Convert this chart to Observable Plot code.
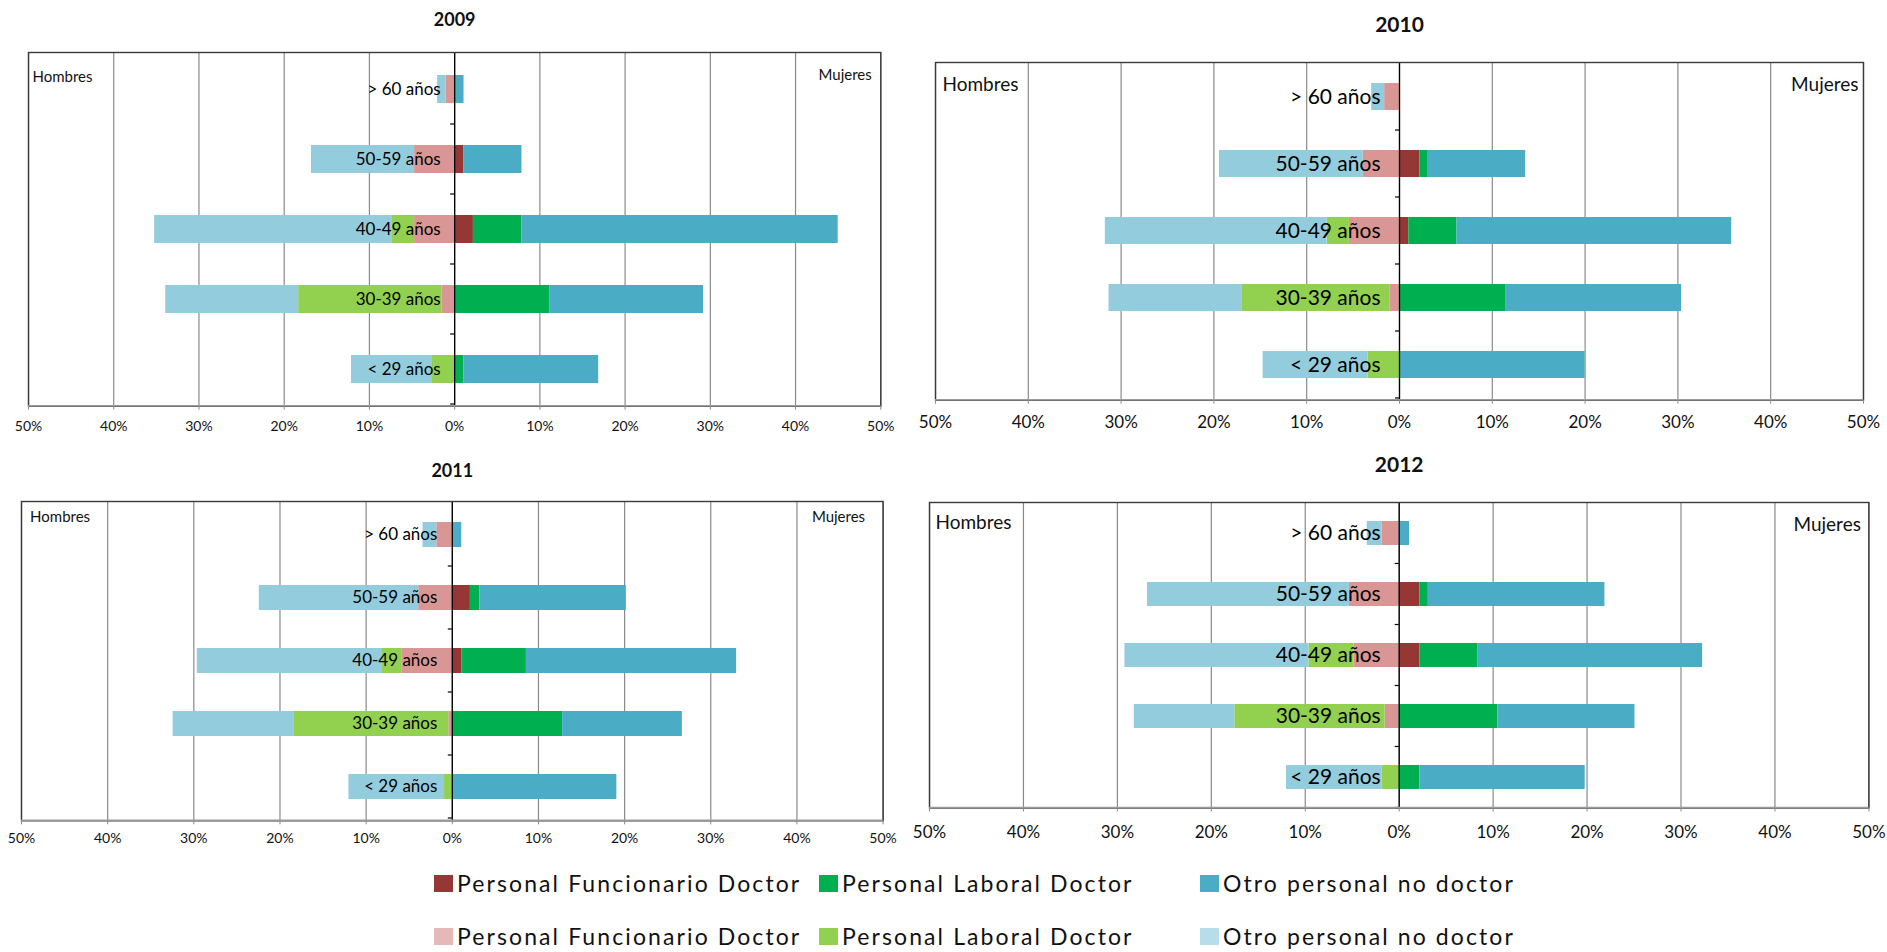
<!DOCTYPE html>
<html>
<head>
<meta charset="utf-8">
<script src="https://cdn.jsdelivr.net/npm/d3@7"></script>
<script src="https://cdn.jsdelivr.net/npm/@observablehq/plot@0.6"></script>
<style>
html, body { margin: 0; padding: 0; background: #fff; }
#root { position: relative; width: 1887px; height: 952px; overflow: hidden; font-family: Lato, "Open Sans", sans-serif; color: #000; }
#root svg { position: absolute; overflow: visible; }
.lg { position: absolute; display: flex; align-items: center; height: 26px; line-height: 26px; font-size: 23px; letter-spacing: 2.1px; white-space: nowrap; color: #111; }
.sw { width: 19px; height: 17px; margin-right: 4px; flex: none; }
</style>
</head>
<body>
<div id="root"></div>
<script>
// ---------------- data ----------------
const years = ["2009", "2010", "2011", "2012"];
const ages = ["> 60 años", "50-59 años", "40-49 años", "30-39 años", "< 29 años"];
const xTicks = [-50, -40, -30, -20, -10, 0, 10, 20, 30, 40, 50];
const series = ["Personal Funcionario Doctor", "Personal Laboral Doctor", "Otro personal no doctor"];

// Hombres (left side), % per age group; one row per year
const hombresFuncionario = [
  [1.0, 4.7, 4.7, 1.5, 0.0],
  [1.6, 3.9, 5.4, 1.0, 0.0],
  [1.8, 3.9, 5.8, 0.4, 0.0],
  [1.8, 5.3, 4.8, 1.5, 0.0]
];
const hombresLaboral = [
  [0.0, 0.0, 2.6, 16.8, 2.6],
  [0.0, 0.0, 2.4, 16.0, 3.4],
  [0.0, 0.0, 2.3, 18.0, 0.9],
  [0.0, 0.0, 4.8, 16.0, 1.8]
];
const hombresOtro = [
  [1.0, 12.1, 27.9, 15.6, 9.5],
  [1.4, 15.5, 23.9, 14.3, 11.3],
  [1.6, 18.5, 21.5, 14.0, 11.1],
  [1.6, 21.5, 19.6, 10.7, 10.2]
];
// Mujeres (right side)
const mujeresFuncionario = [
  [0.0, 1.1, 2.2, 0.0, 0.0],
  [0.0, 2.2, 1.0, 0.0, 0.0],
  [0.0, 2.1, 1.1, 0.0, 0.0],
  [0.0, 2.2, 2.2, 0.0, 0.0]
];
const mujeresLaboral = [
  [0.0, 0.0, 5.7, 11.2, 1.1],
  [0.0, 0.9, 5.2, 11.5, 0.0],
  [0.0, 1.1, 7.5, 12.8, 0.0],
  [0.0, 0.9, 6.2, 10.5, 2.2]
];
const mujeresOtro = [
  [1.1, 6.8, 37.1, 18.0, 15.8],
  [0.0, 10.5, 29.6, 18.9, 20.0],
  [1.1, 17.0, 24.4, 13.9, 19.1],
  [1.1, 18.8, 23.9, 14.6, 17.6]
];

// ---------------- styles ----------------
const coloresMujeres = ["#953735", "#00B050", "#4BACC6"];
const coloresHombres = ["#D99694", "#92D050", "#93CDDD"];
const coloresLeyendaHombres = ["#E6B9B8", "#92D050", "#B7DEE8"];
const FONT = "Lato, 'Open Sans', sans-serif";

// panel layout (frame edges in page px) and text sizes
const layout = [
  {L: 27.7, R: 880, T: 52.3, B: 406, titleY: 20, ts: 18, hs: 15, cs: 17, tk: 14, pad: 11, hx: 4, hy: 25, mx: 9, my: 23, labDx: 14},
  {L: 935, R: 1863, T: 62.3, B: 400, titleY: 25, ts: 21, hs: 19, cs: 21, tk: 17, pad: 12, hx: 7, hy: 22, mx: 5, my: 22, labDx: 19},
  {L: 20.7, R: 882.3, T: 500.7, B: 820, titleY: 470.7, ts: 18, hs: 15, cs: 17, tk: 14, pad: 8, hx: 8.6, hy: 16, mx: 18, my: 16, labDx: 15},
  {L: 929.3, R: 1868.7, T: 501.5, B: 807, titleY: 464, ts: 21, hs: 19, cs: 21, tk: 17, pad: 14, hx: 6, hy: 20, mx: 8, my: 22, labDx: 18.5}
];

const keys = ["H0", "H1", "H2", "M0", "M1", "M2"];
const root = document.getElementById("root");
const mL = 30, mR = 30, mT = 60, mB = 45;

years.forEach((year, i) => {
  const p = layout[i];
  const hom = [hombresFuncionario[i], hombresLaboral[i], hombresOtro[i]];
  const muj = [mujeresFuncionario[i], mujeresLaboral[i], mujeresOtro[i]];
  const rows = ages.flatMap((age, j) => [
    ...hom.map((s, k) => ({age, key: "H" + k, value: -s[j]})),
    ...muj.map((s, k) => ({age, key: "M" + k, value: s[j]}))
  ]);
  const W = (p.R - p.L) + mL + mR;
  const H = (p.B - p.T) + mT + mB;
  const plot = Plot.plot({
    width: W, height: H,
    marginLeft: mL, marginRight: mR, marginTop: mT, marginBottom: mB,
    style: {fontFamily: FONT, fontSize: p.tk + "px", background: "transparent", color: "#000", overflow: "visible"},
    x: {domain: [-50, 50], label: null, axis: null},
    y: {type: "band", domain: ages, paddingInner: 0.6, paddingOuter: 0.3, axis: null},
    color: {domain: keys, range: [...coloresHombres, ...coloresMujeres]},
    marks: [
      Plot.gridX(xTicks, {stroke: "#8a8a8a", strokeOpacity: 1, strokeWidth: 1.2}),
      Plot.barX(rows, {x: "value", y: "age", fill: "key"}),
      Plot.ruleX([0], {stroke: "#000", strokeWidth: 1.3}),
      Plot.frame({stroke: "#3a3a3a", strokeWidth: 1.4}),
      Plot.axisX(xTicks, {tickFormat: d => Math.abs(d) + "%", tickSize: 4, tickPadding: p.pad, stroke: "#8a8a8a", fill: "#111", fontSize: p.tk, label: null}),
      Plot.text(ages, {x: () => 0, y: d => d, text: d => d, textAnchor: "end", dx: -p.labDx, fontSize: p.cs, fill: "#000"}),
      Plot.text(["Hombres"], {frameAnchor: "top-left", dx: p.hx, dy: p.hy, textAnchor: "start", lineAnchor: "middle", fontSize: p.hs, fill: "#111"}),
      Plot.text(["Mujeres"], {frameAnchor: "top-right", dx: -p.mx, dy: p.my, textAnchor: "end", lineAnchor: "middle", fontSize: p.hs, fill: "#111"}),
      Plot.text([year], {x: () => 0, frameAnchor: "top", dy: p.titleY - p.T, lineAnchor: "middle", fontSize: p.ts, fontWeight: "bold", fill: "#111"})
    ]
  });
  // band-boundary ticks on the zero line and grey bottom axis line, from Plot's scales
  const ys = plot.scale("y"), xs = plot.scale("x");
  const x0 = xs.apply(0);
  const g = d3.select(plot).append("g");
  ages.forEach(a => {
    const yb = ys.apply(a) + ys.bandwidth / 2 + ys.step / 2;
    g.append("line").attr("x1", x0 - 4).attr("x2", x0).attr("y1", yb).attr("y2", yb).attr("stroke", "#000").attr("stroke-width", 1.2);
  });
  const yBottom = ys.range[1];
  g.append("line").attr("x1", xs.apply(-50)).attr("x2", xs.apply(50)).attr("y1", yBottom).attr("y2", yBottom)
    .attr("stroke", "#9a9a9a").attr("stroke-width", 1.6);
  plot.style.left = (p.L - mL) + "px";
  plot.style.top = (p.T - mT) + "px";
  root.appendChild(plot);
});

// ---------------- legend ----------------
const legendX = [434, 819, 1200];
const legendRows = [{y: 883, colors: coloresMujeres}, {y: 936, colors: coloresLeyendaHombres}];
legendRows.forEach(r => {
  series.forEach((s, k) => {
    const d = document.createElement("div");
    d.className = "lg";
    d.style.left = legendX[k] + "px";
    d.style.top = (r.y - 13) + "px";
    const sw = document.createElement("span");
    sw.className = "sw";
    sw.style.background = r.colors[k];
    const t = document.createElement("span");
    t.textContent = s;
    d.appendChild(sw); d.appendChild(t);
    root.appendChild(d);
  });
});
</script>
</body>
</html>
